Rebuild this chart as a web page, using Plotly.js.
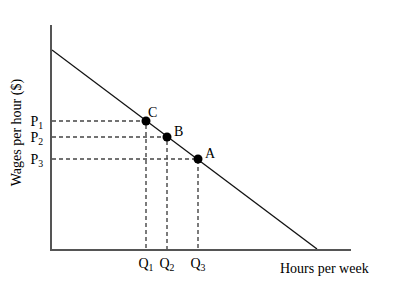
<!DOCTYPE html>
<html>
<head>
<meta charset="utf-8">
<script src="https://cdn.plot.ly/plotly-3.0.1.min.js"></script>
<style>html,body{margin:0;padding:0;background:#fff;}#chart{width:402px;height:300px;}</style>
</head>
<body>
<div id="chart"></div>
<script>
// Demand curve endpoints (arbitrary units)
const demandX = [0, 265];
const demandY = [199, 0];
// Points on the curve
const pointNames = ["C", "B", "A"];
const pointX = [94, 115, 146];
const pointY = [128, 112, 90];
// Tick labels
const priceLabels = ["P<sub>1</sub>", "P<sub>2</sub>", "P<sub>3</sub>"];
const quantityLabels = ["Q<sub>1</sub>", "Q<sub>2</sub>", "Q<sub>3</sub>"];
const xTitle = "Hours per week";
const yTitle = "Wages per hour ($)";

const font = "Liberation Serif, Times New Roman, serif";
const traces = [];
// dashed guides
for (let i = 0; i < pointX.length; i++) {
  traces.push({x: [0, pointX[i], pointX[i]], y: [pointY[i], pointY[i], 0], mode: "lines",
    line: {color: "#444", width: 1.4, dash: "4px,3px"}, hoverinfo: "skip"});
}
traces.push({x: demandX, y: demandY, mode: "lines", line: {color: "#111", width: 1.3}});
traces.push({x: pointX, y: pointY, mode: "markers", marker: {color: "#000", size: 9}});

const annotations = pointNames.map((n, i) => ({
  x: pointX[i], y: pointY[i], text: n, showarrow: false,
  xshift: [6, 11, 12][i], yshift: [9, 6, 6][i], xanchor: "center", yanchor: "middle",
  font: {family: font, size: 14, color: "#000"}
}));
annotations.push({xref: "paper", yref: "paper", x: 0.91, y: -0.085, text: xTitle, showarrow: false,
  xanchor: "center", yanchor: "middle", font: {family: font, size: 14, color: "#000"}});
annotations.push({xref: "paper", yref: "paper", x: -0.118, y: 0.52, text: yTitle, showarrow: false,
  textangle: -90, xanchor: "center", yanchor: "middle", font: {family: font, size: 14, color: "#000"}});

const layout = {
  width: 402, height: 300,
  margin: {l: 52, r: 51, t: 25, b: 51},
  paper_bgcolor: "#fff", plot_bgcolor: "#fff",
  showlegend: false,
  xaxis: {range: [0, 299], showgrid: false, zeroline: false, showline: true, linecolor: "#555", linewidth: 2,
    tickvals: pointX, ticktext: quantityLabels, ticks: "", ticklabelstandoff: 0,
    tickfont: {family: font, size: 14, color: "#000"}, fixedrange: true},
  yaxis: {range: [0, 224], showgrid: false, zeroline: false, showline: true, linecolor: "#555", linewidth: 2,
    tickvals: pointY, ticktext: priceLabels, ticks: "", ticklabelstandoff: 4,
    tickfont: {family: font, size: 14, color: "#000"}, fixedrange: true},
  annotations: annotations
};
Plotly.newPlot("chart", traces, layout, {staticPlot: true, displayModeBar: false});
</script>
</body>
</html>
